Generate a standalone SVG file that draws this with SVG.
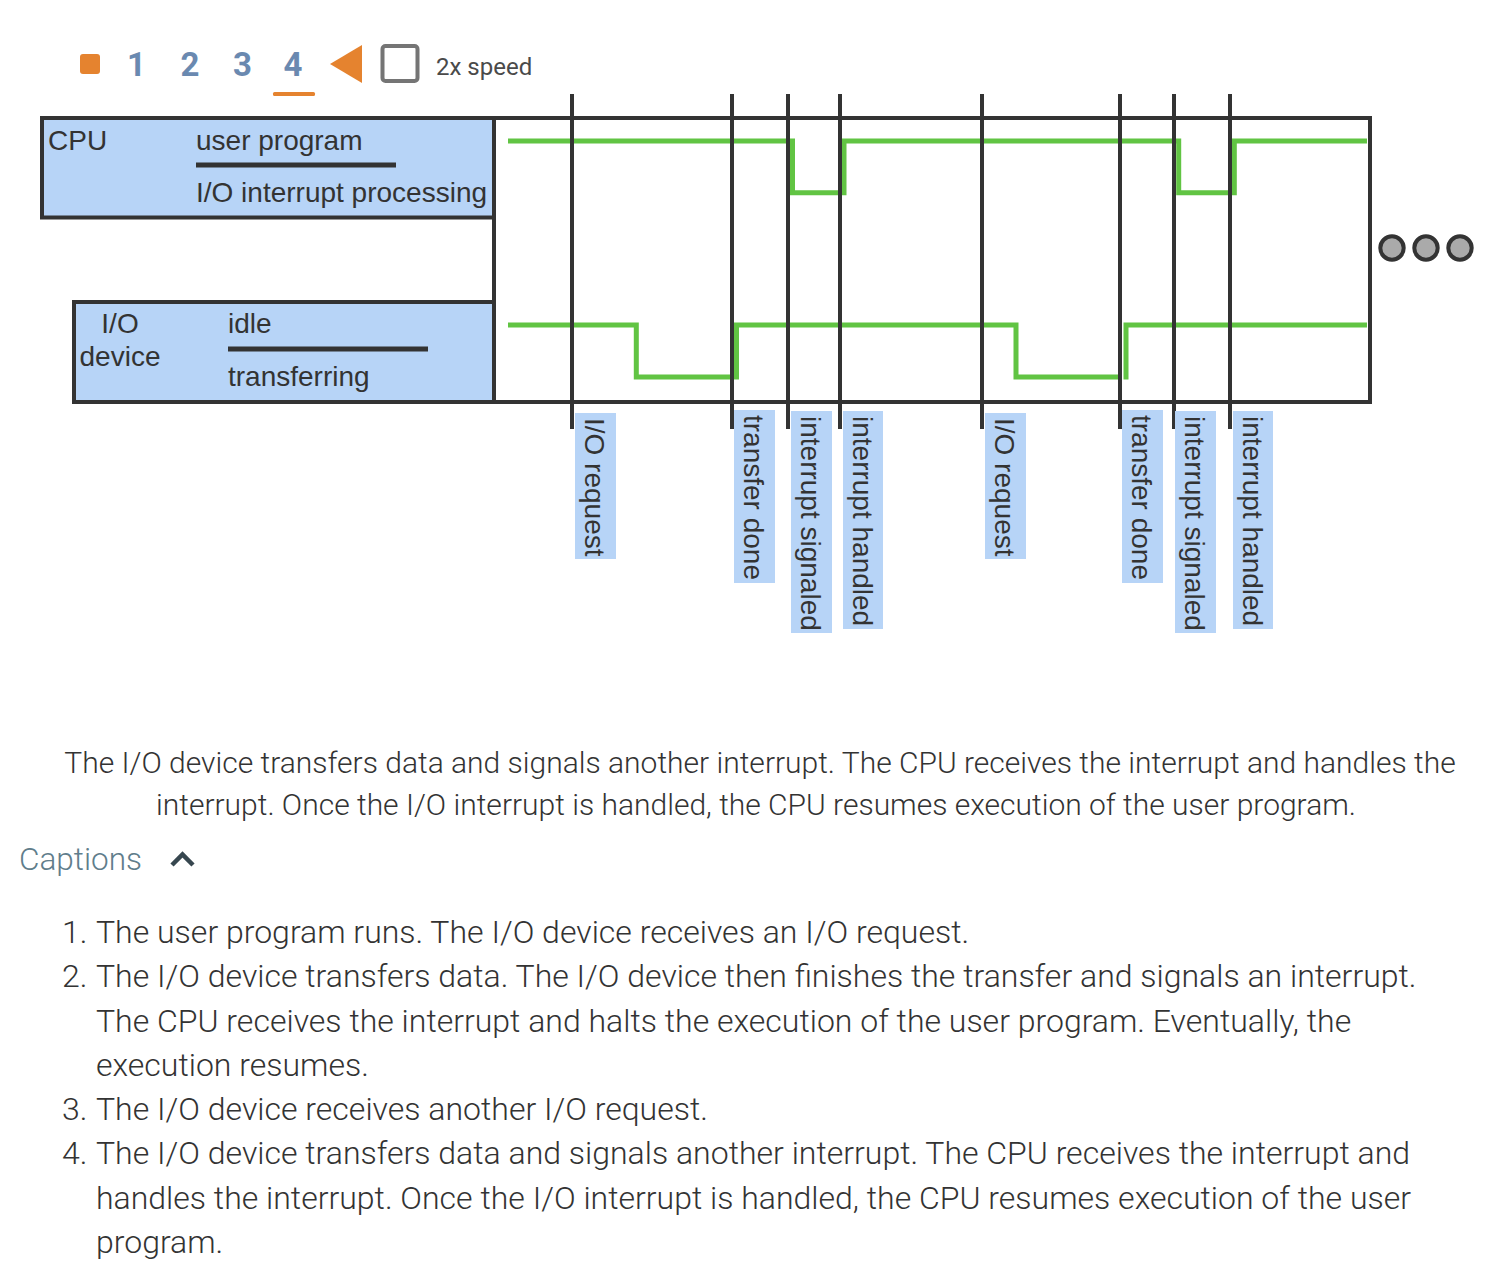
<svg xmlns="http://www.w3.org/2000/svg" width="1500" height="1276" viewBox="0 0 1500 1276">
<style>
  .box { fill: #b7d4f7; stroke: #333; stroke-width: 4; }
  .frame { fill: none; stroke: #333; stroke-width: 4; }
  .lbl { font-family: "Liberation Sans", Arial, sans-serif; font-size: 28px; fill: #333; }
  .bar { stroke: #333; stroke-width: 5; }
  .sig { fill: none; stroke: #61c443; stroke-width: 5; stroke-linejoin: miter; stroke-linecap: butt; }
  .evt { stroke: #333; stroke-width: 4; }
  .tag { fill: #b7d4f7; }
  .num { font-family: Roboto, "Noto Sans", sans-serif; font-weight: bold; font-size: 33px; fill: #6a89b0; text-anchor: middle; }
  .body { font-family: Roboto, "Noto Sans", sans-serif; font-weight: 300; font-size: 30px; fill: #333; }
  .item { font-family: Roboto, "Noto Sans", sans-serif; font-weight: 300; font-size: 32px; fill: #333; }
  .dot { fill: #aaa; stroke: #333; stroke-width: 4; }
</style>
<rect width="1500" height="1276" fill="#fff"/>

<g id="controls">
  <rect x="80" y="54" width="20" height="20" rx="3" fill="#e5832f"/>
  <text class="num" x="136.5" y="76">1</text>
  <text class="num" x="190" y="76">2</text>
  <text class="num" x="242.5" y="76">3</text>
  <text class="num" x="293" y="76">4</text>
  <rect x="273" y="92" width="42" height="4" rx="1.5" fill="#e5832f"/>
  <polygon points="330,64 362,45 362,83" fill="#e5832f"/>
  <rect x="382.5" y="46" width="35" height="35" rx="3" fill="#fff" stroke="#757575" stroke-width="4"/>
  <text x="436" y="75" font-family="Roboto, 'Noto Sans', sans-serif" font-size="24" fill="#4a4a4a">2x speed</text>
</g>

<g id="timeline">
  <rect class="frame" x="494" y="118" width="876" height="284"/>
</g>

<g id="cpu">
  <rect class="box" x="42" y="118" width="452" height="99.5"/>
  <text class="lbl" x="48" y="150">CPU</text>
  <text class="lbl" x="196" y="150">user program</text>
  <line class="bar" x1="196" y1="165" x2="396" y2="165"/>
  <text class="lbl" x="196" y="202">I/O interrupt processing</text>
</g>

<g id="io-device">
  <rect class="box" x="74" y="302" width="420" height="100"/>
  <text class="lbl" x="120" y="333" text-anchor="middle">I/O</text>
  <text class="lbl" x="120" y="366" text-anchor="middle">device</text>
  <text class="lbl" x="228" y="333">idle</text>
  <line class="bar" x1="228" y1="349" x2="428" y2="349"/>
  <text class="lbl" x="228" y="386">transferring</text>
</g>

<g id="signals">
  <polyline id="cpu-signal" class="sig" points="508,141 792.5,141 792.5,192.7 844,192.7 844,141 1178.7,141 1178.7,192.7 1234.3,192.7 1234.3,141 1367,141"/>
  <polyline id="io-signal-a" class="sig" points="508,325 636.3,325 636.3,377 736.5,377 736.5,325 1016,325 1016,377 1118.5,377"/>
  <polyline id="io-signal-b" class="sig" points="1126,379.5 1126,325 1367,325"/>
</g>

<g id="connectors">
  <line class="evt" x1="572" y1="94" x2="572" y2="429"/>
  <line class="evt" x1="732" y1="94" x2="732" y2="429"/>
  <line class="evt" x1="788" y1="94" x2="788" y2="429"/>
  <line class="evt" x1="840" y1="94" x2="840" y2="429"/>
  <line class="evt" x1="982" y1="94" x2="982" y2="429"/>
  <line class="evt" x1="1120" y1="94" x2="1120" y2="429"/>
  <line class="evt" x1="1174" y1="94" x2="1174" y2="429"/>
  <line class="evt" x1="1230" y1="94" x2="1230" y2="429"/>
</g>

<g id="event-1">
  <rect class="tag" x="575" y="413" width="41" height="146"/>
  <text class="lbl" transform="translate(585,418) rotate(90)">I/O request</text>
</g>
<g id="event-2">
  <rect class="tag" x="734" y="410" width="41" height="173"/>
  <text class="lbl" transform="translate(744,415) rotate(90)">transfer done</text>
</g>
<g id="event-3">
  <rect class="tag" x="791" y="411" width="41" height="222"/>
  <text class="lbl" transform="translate(801,416) rotate(90)">interrupt signaled</text>
</g>
<g id="event-4">
  <rect class="tag" x="843" y="411" width="40" height="218"/>
  <text class="lbl" transform="translate(853,416) rotate(90)">interrupt handled</text>
</g>
<g id="event-5">
  <rect class="tag" x="985" y="413" width="41" height="146"/>
  <text class="lbl" transform="translate(995,418) rotate(90)">I/O request</text>
</g>
<g id="event-6">
  <rect class="tag" x="1122" y="410" width="41" height="173"/>
  <text class="lbl" transform="translate(1132,415) rotate(90)">transfer done</text>
</g>
<g id="event-7">
  <rect class="tag" x="1175" y="411" width="41" height="222"/>
  <text class="lbl" transform="translate(1185,416) rotate(90)">interrupt signaled</text>
</g>
<g id="event-8">
  <rect class="tag" x="1233" y="411" width="40" height="218"/>
  <text class="lbl" transform="translate(1243,416) rotate(90)">interrupt handled</text>
</g>

<g id="more">
  <circle class="dot" cx="1392" cy="248" r="11.7"/>
  <circle class="dot" cx="1426" cy="248" r="11.7"/>
  <circle class="dot" cx="1460" cy="248" r="11.7"/>
</g>

<g id="current-caption">
  <text class="body" x="760" y="773" text-anchor="middle">The I/O device transfers data and signals another interrupt. The CPU receives the interrupt and handles the</text>
  <text class="body" x="756" y="815" text-anchor="middle">interrupt. Once the I/O interrupt is handled, the CPU resumes execution of the user program.</text>
</g>

<g id="captions-header">
  <text x="19" y="870" font-family="Roboto, 'Noto Sans', sans-serif" font-weight="300" font-size="31.5" fill="#607d8b">Captions</text>
  <polyline points="172,865 182.5,854.5 193,865" fill="none" stroke="#37474f" stroke-width="4.5"/>
</g>

<g id="captions-list">
  <text class="item" x="62" y="943">1.</text>
  <text class="item" x="96" y="943">The user program runs. The I/O device receives an I/O request.</text>
  <text class="item" x="62" y="987">2.</text>
  <text class="item" x="96" y="987">The I/O device transfers data. The I/O device then finishes the transfer and signals an interrupt.</text>
  <text class="item" x="96" y="1032">The CPU receives the interrupt and halts the execution of the user program. Eventually, the</text>
  <text class="item" x="96" y="1076">execution resumes.</text>
  <text class="item" x="62" y="1120">3.</text>
  <text class="item" x="96" y="1120">The I/O device receives another I/O request.</text>
  <text class="item" x="62" y="1164">4.</text>
  <text class="item" x="96" y="1164">The I/O device transfers data and signals another interrupt. The CPU receives the interrupt and</text>
  <text class="item" x="96" y="1209">handles the interrupt. Once the I/O interrupt is handled, the CPU resumes execution of the user</text>
  <text class="item" x="96" y="1253">program.</text>
</g>
</svg>
